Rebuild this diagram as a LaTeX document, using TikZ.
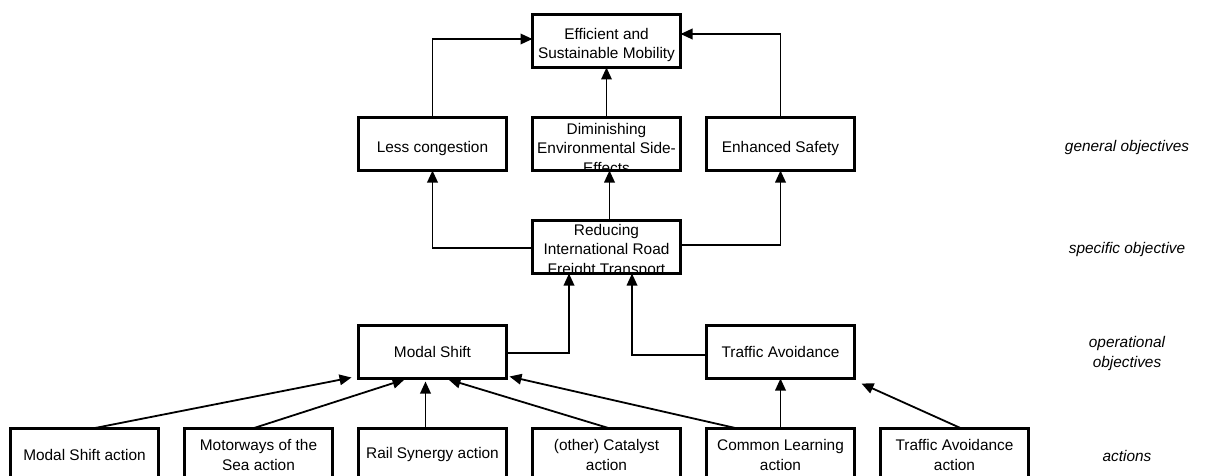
\documentclass[tikz,border=0pt]{standalone}
\usepackage{fontspec}
\setmainfont{Liberation Sans}
\usepackage{tikz}
\usetikzlibrary{arrows.meta,positioning}
\newcommand{\boxfont}{\fontsize{15.4}{19.5}\selectfont}
\tikzset{
  box/.style   = {draw, line width=2.4pt, outer sep=0pt, minimum width=148pt,
                  minimum height=53pt, inner sep=1pt, align=center,
                  font=\boxfont},
  lowtext/.style = {text height=18pt, text depth=0pt},
  boxtext/.style = {font=\boxfont, align=center, inner sep=0pt},
  lvl/.style   = {font=\boxfont\itshape, align=center},
  arr/.style   = {-{Triangle[length=12pt,width=10.5pt]}, line width=1.8pt}
}
\begin{document}
\begin{tikzpicture}[x=1pt,y=1pt,node distance=50pt and 26pt]
\useasboundingbox (0,0) rectangle (1205,-476);
\node[box, text height=38.7pt, text depth=3.2pt] (goal) at (606.5,-41)
     {Efficient and\\Sustainable Mobility};
\node[box, below=of goal]  (dimin)    {};
\node[box, lowtext, left=of dimin]  (lesscong) {Less congestion};
\node[box, lowtext, right=of dimin] (safety)   {Enhanced Safety};
\node[box, below=of dimin] (reduce)   {};
\node[box, below left=52pt and 26pt of reduce]  (modal)   {Modal Shift};
\node[box, below right=52pt and 26pt of reduce] (travoid) {Traffic Avoidance};
\node[box, below=of modal]     (railsyn) {Rail Synergy action};
\node[box, left=of railsyn]    (motor)   {Motorways of the\\Sea action};
\node[box, left=of motor]      (msact)   {Modal Shift action};
\node[box, right=of railsyn]   (catal)   {(other) Catalyst\\action};
\node[box, below=of travoid]   (common)  {Common Learning\\action};
\node[box, right=of common]    (taact)   {Traffic Avoidance\\action};
% texts too long for their boxes
\begin{scope}
  \clip (dimin.south west) rectangle (dimin.north east);
  \node[boxtext] (dimintext) at ([yshift=-4pt]dimin.center)
       {Diminishing\\Environmental Side-\\Effects};
\end{scope}
\begin{scope}
  \clip (reduce.south west) rectangle (reduce.north east);
  \node[boxtext] (reducetext) at ([yshift=-4pt]reduce.center)
       {Reducing\\International Road\\Freight Transport};
\end{scope}
% levels
\node[lvl] (lgen)  at (1127,-148)   {general objectives};
\node[lvl] (lspec) at (1127,-250)   {specific objective};
\node[lvl] (lop)   at (1127,-353.5) {operational\\objectives};
\node[lvl] (lact)  at (1127,-456)   {actions};
% general -> goal
\draw[arr] (lesscong.north) |- ([yshift=2pt]goal.west);
\draw[arr] (safety.north)   |- ([yshift=7pt]goal.east);
\draw[arr] (dimin) -- (goal);
% specific -> general
\draw[arr] ([yshift=-1pt]reduce.west) -| (lesscong.south);
\draw[arr] ([yshift=2pt]reduce.east)  -| (safety.south);
\draw[arr] ([xshift=3pt]reduce.north) -- ([xshift=3pt]dimin.south);
% operational -> specific
\draw[arr] ([yshift=-1pt]modal.east)  -| ([xshift=-37.5pt]reduce.south);
\draw[arr] ([yshift=-3pt]travoid.west) -| ([xshift=25.5pt]reduce.south);
% actions -> operational
\draw[arr] ([xshift=8pt]msact.north)   -- ([shift={(-7pt,1pt)}]modal.south west);
\draw[arr] ([xshift=-6pt]motor.north)  -- ([shift={(-28pt,-1pt)}]modal.south);
\draw[arr] ([xshift=-7pt]railsyn.north) -- ([shift={(-7pt,-3pt)}]modal.south);
\draw[arr] ([xshift=3.5pt]catal.north) -- ([shift={(16pt,-1pt)}]modal.south);
\draw[arr] ([xshift=-43pt]common.north) -- ([shift={(3pt,2pt)}]modal.south east);
\draw[arr] (common.north) -- (travoid.south);
\draw[arr] ([xshift=7pt]taact.north)   -- ([shift={(7pt,-5pt)}]travoid.south east);
\end{tikzpicture}
\end{document}
